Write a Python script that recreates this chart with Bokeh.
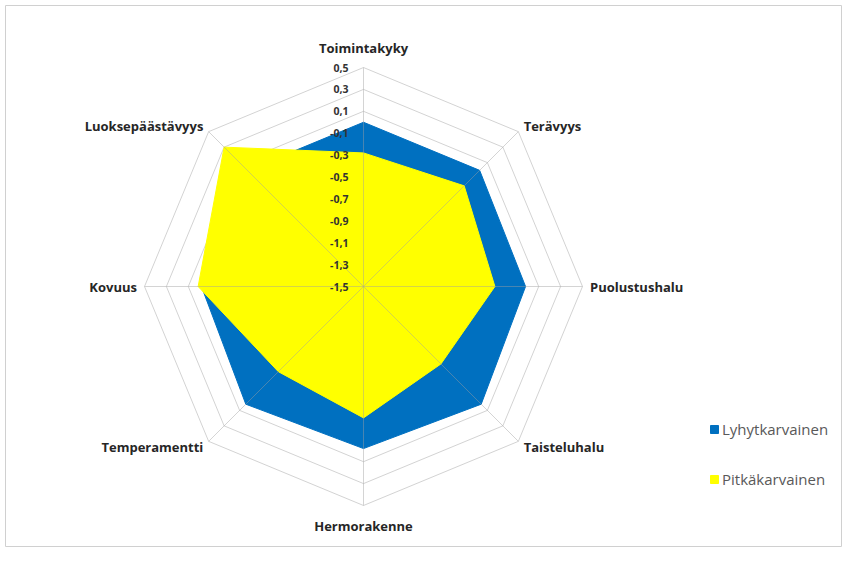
import math
from bokeh.plotting import figure
from bokeh.models import Range1d, Legend, LegendItem
from bokeh.core.properties import value
from bokeh.embed import file_html
from bokeh.resources import INLINE

# ---- data ----
categories = ["Toimintakyky", "Terävyys", "Puolustushalu", "Taisteluhalu",
              "Hermorakenne", "Temperamentti", "Kovuus", "Luoksepäästävyys"]
lyhytkarvainen = [0.0, 0.0, -0.02, 0.02, -0.02, 0.02, -0.02, 0.0]
pitkakarvainen = [-0.28, -0.2, -0.3, -0.5, -0.3, -0.4, 0.01, 0.3]
series_names = ["Lyhytkarvainen", "Pitkäkarvainen"]
series_colors = ["#0070C0", "#FFFF00"]
ticks = [-1.5, -1.3, -1.1, -0.9, -0.7, -0.5, -0.3, -0.1, 0.1, 0.3, 0.5]
tick_labels = ["-1,5", "-1,3", "-1,1", "-0,9", "-0,7", "-0,5", "-0,3", "-0,1", "0,1", "0,3", "0,5"]

# ---- layout ----
PX = 109.5          # pixels per data unit
W, H = 842, 547
BL, BT = 5, 5       # left / top border
FW, FH = W - BL, H - BT
CX, CY = 358, 281   # centre of radar in frame pixels (from left / top)
vmin = ticks[0]
RMAX = ticks[-1] - vmin
n = len(categories)
angles = [2 * math.pi * i / n for i in range(n)]
sins = [math.sin(a) for a in angles]
coss = [math.cos(a) for a in angles]

p = figure(width=W, height=H,
           x_range=Range1d(-CX / PX, (FW - CX) / PX),
           y_range=Range1d(-(FH - CY) / PX, CY / PX),
           x_axis_type=None, y_axis_type=None,
           output_backend="svg", toolbar_location=None,
           min_border_left=BL, min_border_top=BT, min_border_right=0, min_border_bottom=0)
p.outline_line_color = "#D0D0D0"
p.background_fill_color = "white"
p.border_fill_color = "white"

# grid octagons
gx, gy = [], []
for t in ticks[1:]:
    r = t - vmin
    gx.append([r * s for s in sins] + [r * sins[0]])
    gy.append([r * c for c in coss] + [r * coss[0]])
p.multi_line(gx, gy, line_color="#D3D3D3", line_width=1)

# series
renderers = []
for vals, col in zip([lyhytkarvainen, pitkakarvainen], series_colors):
    xs = [(v - vmin) * s for v, s in zip(vals, sins)]
    ys = [(v - vmin) * c for v, c in zip(vals, coss)]
    r = p.patch(xs, ys, fill_color=col, line_color=col, line_width=1)
    renderers.append(r)

# spokes on top
p.segment(x0=[0] * n, y0=[0] * n,
          x1=[RMAX * s for s in sins], y1=[RMAX * c for c in coss],
          line_color="#A0A0A0", line_alpha=0.45, line_width=1)

# tick labels
p.text(x=[-15 / PX] * len(ticks), y=[t - vmin for t in ticks], text=tick_labels,
       text_align="right", text_baseline="middle",
       text_font=value("Open Sans"), text_font_style="bold",
       text_font_size="10.5px", text_color="#333333")

# category labels
lx, ly, la = [], [], []
for s, c in zip(sins, coss):
    if abs(s) < 0.01:
        off = 20 / PX
        la.append("center")
    else:
        off = 7.5 / PX
        la.append("left" if s > 0 else "right")
    lx.append((RMAX + off) * s)
    ly.append((RMAX + off) * c)
for i in range(n):
    p.text(x=[lx[i]], y=[ly[i]], text=[categories[i]],
           text_align=la[i], text_baseline="middle",
           text_font=value("Open Sans"), text_font_style="bold",
           text_font_size="13px", text_color="#262626")

legend = Legend(items=[LegendItem(label=nm, renderers=[r]) for nm, r in zip(series_names, renderers)],
                location=(704, 58), glyph_width=10, glyph_height=10, label_height=10,
                spacing=30, padding=0, margin=0, label_standoff=3,
                label_text_font="Open Sans", label_text_font_size="15px",
                label_text_color="#595959",
                border_line_alpha=0, background_fill_alpha=0)
p.add_layout(legend)

open("out.html", "w").write(file_html(p, INLINE))
